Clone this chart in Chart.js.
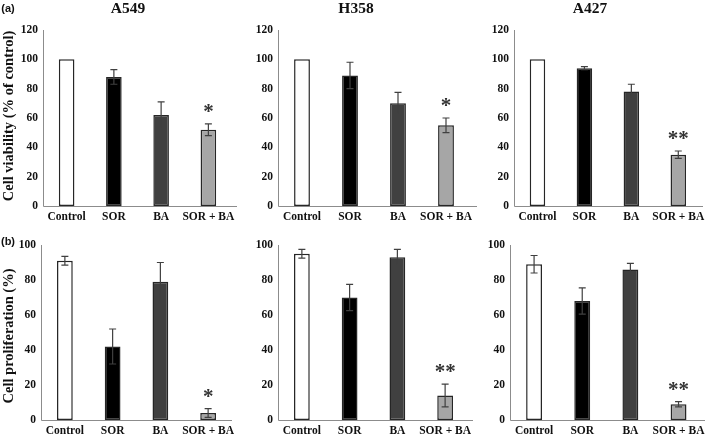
<!DOCTYPE html>
<html>
<head>
<meta charset="utf-8">
<script src="https://cdn.jsdelivr.net/npm/chart.js@4"></script>
<style>
  body { margin: 0; background: #fff; }
  #wrap { position: relative; width: 709px; height: 435px; overflow: hidden; background: #fff; }
  #wrap canvas { position: absolute; left: 0; top: 0; pointer-events: none; }
  .txt { position: absolute; font-family: 'Liberation Serif', serif; font-weight: bold; color: #111; white-space: nowrap; transform: translate(-50%, -50%); line-height: 1; }
  .ttl { font-size: 15.5px; }
  .lbl { font-family: 'Liberation Sans', Arial, sans-serif; font-size: 11px; }
  .ytl { font-size: 14.5px; transform: translate(-50%, -50%) rotate(-90deg); }
</style>
</head>
<body>
<div id="wrap">
  <div class="txt lbl" style="left:8px; top:8px">(a)</div>
  <div class="txt lbl" style="left:8px; top:241px">(b)</div>
  <div class="txt ttl" style="left:128px; top:8px">A549</div>
  <div class="txt ttl" style="left:356px; top:8px">H358</div>
  <div class="txt ttl" style="left:590px; top:8px">A427</div>
  <div class="txt ytl" style="left:8px; top:116px">Cell viability (% of control)</div>
  <div class="txt ytl" style="left:8px; top:336px">Cell proliferation (%)</div>
</div>
<script>
// categories and values (mean, error bar half-height)
const categories = ['Control', 'SOR', 'BA', 'SOR + BA']
const barColors = ['#ffffff', '#000000', '#404040', '#a6a6a6']

const viabilityA549 = [100, 88, 62, 52]
const viabilityA549Err = [0, 5, 9, 4]
const viabilityH358 = [100, 89, 70, 55]
const viabilityH358Err = [0, 9, 7.5, 5]
const viabilityA427 = [100, 94, 78, 35]
const viabilityA427Err = [0, 1, 5, 2.5]

const prolifA549 = [91, 42, 79, 4]
const prolifA549Err = [2.5, 10, 11, 2.5]
const prolifH358 = [95, 70, 93, 14]
const prolifH358Err = [2.5, 7.5, 4.5, 6.5]
const prolifA427 = [89, 68, 86, 9]
const prolifA427Err = [5, 7.5, 3.5, 1.5]

const starsA549a = ['', '', '', '*']
const starsH358a = ['', '', '', '*']
const starsA427a = ['', '', '', '**']
const starsA549b = ['', '', '', '*']
const starsH358b = ['', '', '', '**']
const starsA427b = ['', '', '', '**']

const viabilityTicks = [0, 20, 40, 60, 80, 100, 120]
const prolifTicks = [0, 20, 40, 60, 80, 100]

// canvases are taller than the page so the bottom labels have room; #wrap crops
const W = 709
const H = 470
const Y_AXIS_W = 40
const X_AXIS_H = 24

// plot rectangles of the six panels
const panels = [
  { values: viabilityA549, errors: viabilityA549Err, stars: starsA549a, ticks: viabilityTicks, box: { l: 43, r: 232, t: 30, b: 206, end: 237 } },
  { values: viabilityH358, errors: viabilityH358Err, stars: starsH358a, ticks: viabilityTicks, box: { l: 278, r: 470, t: 30, b: 206, end: 477 } },
  { values: viabilityA427, errors: viabilityA427Err, stars: starsA427a, ticks: viabilityTicks, box: { l: 514, r: 703, t: 30, b: 206, end: 703 } },
  { values: prolifA549, errors: prolifA549Err, stars: starsA549b, ticks: prolifTicks, box: { l: 41, r: 232, t: 245, b: 420, end: 232 } },
  { values: prolifH358, errors: prolifH358Err, stars: starsH358b, ticks: prolifTicks, box: { l: 278, r: 469, t: 245, b: 420, end: 473 } },
  { values: prolifA427, errors: prolifA427Err, stars: starsA427b, ticks: prolifTicks, box: { l: 510, r: 705, t: 245, b: 420, end: 705 } },
]

Chart.defaults.font.family = "'Liberation Serif', 'Times New Roman', serif"
Chart.defaults.font.weight = 'bold'
Chart.defaults.font.size = 11.5
Chart.defaults.color = '#111'

const axisLines = {
  id: 'axisLines',
  beforeDatasetsDraw(chart, args, opts) {
    const ctx = chart.ctx
    const a = chart.chartArea
    ctx.save()
    ctx.strokeStyle = '#8c8c8c'
    ctx.lineWidth = 1
    ctx.beginPath()
    ctx.moveTo(a.left + 0.5, a.top)
    ctx.lineTo(a.left + 0.5, a.bottom + 0.5)
    ctx.lineTo(Math.max(a.right, opts.end), a.bottom + 0.5)
    ctx.stroke()
    ctx.restore()
  },
}

const extras = {
  id: 'extras',
  afterDatasetsDraw(chart, args, opts) {
    const ctx = chart.ctx
    const y = chart.scales.y
    const meta = chart.getDatasetMeta(0)
    const values = chart.data.datasets[0].data
    ctx.save()
    meta.data.forEach((bar, i) => {
      const e = opts.errors[i]
      let top = y.getPixelForValue(values[i])
      if (e > 0) {
        const yt = y.getPixelForValue(values[i] + e)
        const yb = y.getPixelForValue(values[i] - e)
        ctx.strokeStyle = '#404040'
        ctx.lineWidth = 1.2
        ctx.beginPath()
        ctx.moveTo(bar.x, yt)
        ctx.lineTo(bar.x, yb)
        ctx.moveTo(bar.x - 3.5, yt)
        ctx.lineTo(bar.x + 3.5, yt)
        ctx.moveTo(bar.x - 3.5, yb)
        ctx.lineTo(bar.x + 3.5, yb)
        ctx.stroke()
        top = yt
      }
      const s = opts.stars[i]
      if (s) {
        ctx.fillStyle = '#333'
        ctx.font = "bold 21px 'Liberation Serif', serif"
        ctx.textAlign = 'center'
        ctx.textBaseline = 'alphabetic'
        ctx.fillText(s, bar.x, top - 6)
      }
    })
    ctx.restore()
  },
}

const wrap = document.getElementById('wrap')

panels.forEach((p) => {
  const canvas = document.createElement('canvas')
  canvas.width = W
  canvas.height = H
  wrap.insertBefore(canvas, wrap.firstChild)

  const ticks = p.ticks
  const box = p.box

  new Chart(canvas.getContext('2d'), {
    type: 'bar',
    data: {
      labels: categories,
      datasets: [
        {
          data: p.values,
          backgroundColor: barColors,
          borderColor: '#262626',
          borderWidth: 1.5,
          borderSkipped: false,
          categoryPercentage: 1,
          barPercentage: 0.33,
        },
      ],
    },
    options: {
      responsive: false,
      animation: false,
      events: [],
      layout: {
        padding: {
          left: box.l - Y_AXIS_W,
          right: W - box.r,
          top: box.t,
          bottom: H - box.b - X_AXIS_H,
        },
      },
      plugins: {
        legend: { display: false },
        tooltip: { enabled: false },
        axisLines: { end: box.end },
        extras: { errors: p.errors, stars: p.stars },
      },
      scales: {
        x: {
          grid: { display: false, drawTicks: false },
          border: { display: false },
          ticks: { padding: 4, maxRotation: 0, autoSkip: false },
          afterFit: (scale) => {
            scale.height = X_AXIS_H
          },
        },
        y: {
          min: ticks[0],
          max: ticks[ticks.length - 1],
          grid: { display: false, drawTicks: false },
          border: { display: false },
          ticks: { stepSize: ticks[1] - ticks[0], padding: 5 },
          afterFit: (scale) => {
            scale.width = Y_AXIS_W
          },
        },
      },
    },
    plugins: [axisLines, extras],
  })
})
</script>
</body>
</html>
